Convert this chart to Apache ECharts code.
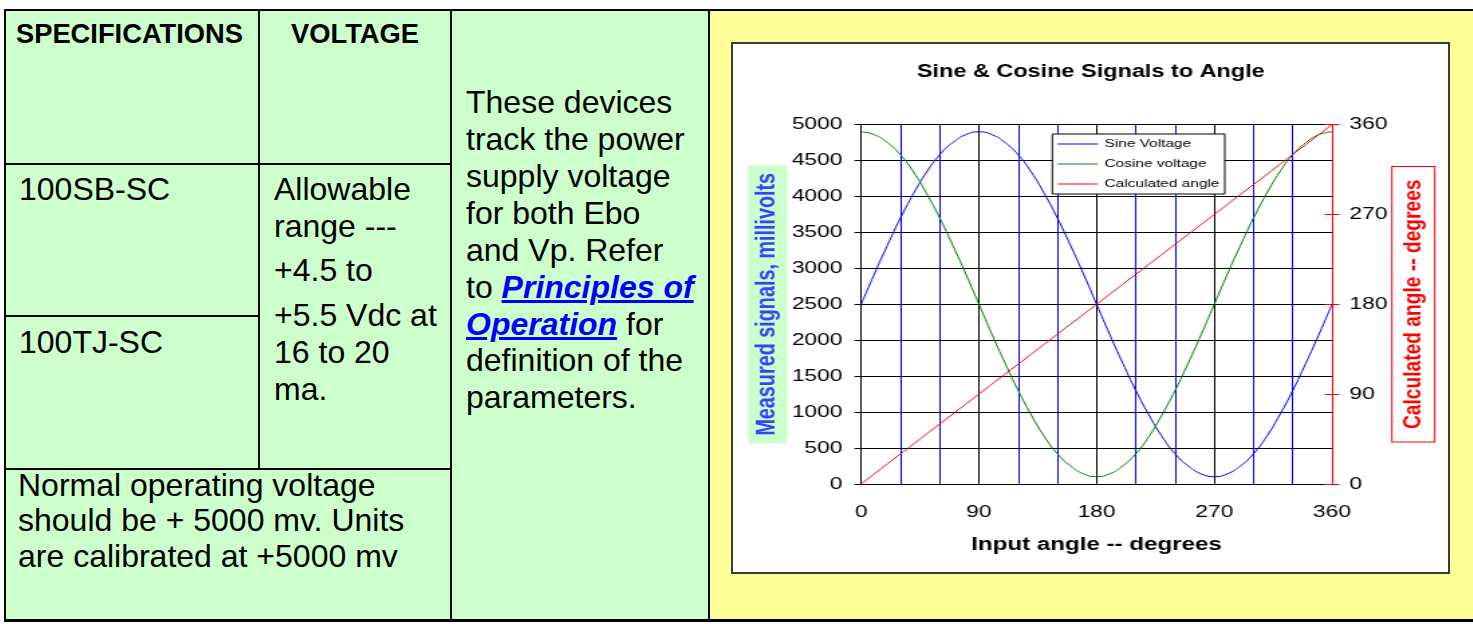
<!DOCTYPE html>
<html><head><meta charset="utf-8">
<script src="https://cdn.jsdelivr.net/npm/echarts@6/dist/echarts.min.js"></script>
<style>
html,body{margin:0;padding:0;width:1473px;height:624px;overflow:hidden;background:#fff;font-family:"Liberation Sans",Arial,sans-serif;}
.abs{position:absolute;}
.ln{position:absolute;background:#000;}
.t{position:absolute;white-space:nowrap;font-size:32px;color:#000;}
.h{position:absolute;white-space:nowrap;font-size:27.3px;font-weight:bold;line-height:30px;color:#000;}
.lk{color:#0000ff;font-weight:bold;font-style:italic;text-decoration:underline;}
#box{position:absolute;left:731px;top:42px;width:719px;height:532px;box-sizing:border-box;border:2px solid #3c3c3c;background:#fff;overflow:hidden;}
#chart{position:absolute;left:0;top:0;width:533.6px;height:528px;transform:scaleX(1.34);transform-origin:0 0;}
</style></head><body>
<div class="abs" style="left:5px;top:10px;width:704px;height:610px;background:#ccffcc"></div>
<div class="abs" style="left:709px;top:10px;width:764px;height:610px;background:#ffff99"></div>
<!-- table borders -->
<div class="ln" style="left:4px;top:9px;width:1469px;height:2px"></div>
<div class="ln" style="left:4px;top:9px;width:2px;height:613px"></div>
<div class="ln" style="left:4px;top:619px;width:1469px;height:3px"></div>
<div class="ln" style="left:258px;top:9px;width:2px;height:460px"></div>
<div class="ln" style="left:450px;top:9px;width:2px;height:612px"></div>
<div class="ln" style="left:708px;top:9px;width:2px;height:612px"></div>
<div class="ln" style="left:4px;top:162.5px;width:448px;height:2px"></div>
<div class="ln" style="left:4px;top:315px;width:255px;height:2px"></div>
<div class="ln" style="left:4px;top:467.5px;width:448px;height:2px"></div>
<!-- table text -->
<div class="h" style="left:16px;top:18.9px">SPECIFICATIONS</div>
<div class="h" style="left:259px;width:192px;text-align:center;top:18.9px">VOLTAGE</div>
<div class="t" style="left:19px;top:171.3px;line-height:36.7px">100SB-SC</div>
<div class="t" style="left:19px;top:323.9px;line-height:36.7px">100TJ-SC</div>
<div class="t" style="left:274px;top:171.3px;line-height:36.6px">Allowable<br>range ---</div>
<div class="t" style="left:274px;top:252.3px;line-height:36.7px">+4.5 to</div>
<div class="t" style="left:274px;top:297.3px;line-height:36.65px">+5.5 Vdc at<br>16 to 20<br>ma.</div>
<div class="t" style="left:18px;top:467.7px;line-height:35.8px">Normal operating voltage<br>should be + 5000 mv. Units<br>are calibrated at +5000 mv</div>
<div class="t" style="left:466px;top:84.1px;line-height:36.9px">These devices<br>track the power<br>supply voltage<br>for both Ebo<br>and Vp. Refer<br>to <span class="lk">Principles of</span><br><span class="lk">Operation</span> for<br>definition of the<br>parameters.</div>
<div id="box"><div id="chart"></div></div>
<script>
var angles = [0,10,20,30,40,50,60,70,80,90,100,110,120,130,140,150,160,170,180,190,200,210,220,230,240,250,260,270,280,290,300,310,320,330,340,350,360];
var sineVoltage = [2500,2920,3320,3700,4040,4340,4580,4750,4860,4900,4860,4750,4580,4340,4040,3700,3320,2920,2500,2080,1680,1300,960,660,420,250,140,100,140,250,420,660,960,1300,1680,2080,2500];
var cosineVoltage = [4900,4860,4750,4580,4340,4040,3700,3320,2920,2500,2080,1680,1300,960,660,420,250,140,100,140,250,420,660,960,1300,1680,2080,2500,2920,3320,3700,4040,4340,4580,4750,4860,4900];
var calculatedAngle = [0,10,20,30,40,50,60,70,80,90,100,110,120,130,140,150,160,170,180,190,200,210,220,230,240,250,260,270,280,290,300,310,320,330,340,350,360];
var seriesNames = ['Sine Voltage','Cosine voltage','Calculated angle'];
var chartTitle = 'Sine & Cosine Signals to Angle';
var xTitle = 'Input angle -- degrees';
var yLeftTitle = 'Measured signals, millivolts';
var yRightTitle = 'Calculated angle -- degrees';

function pairs(ys){ return angles.map(function(a,i){ return [a, ys[i]]; }); }
function plain(v){ return String(v); }
var FF = '"Liberation Sans", Arial, sans-serif';
var lineIcon = 'path://M0,0H30V1H0Z';
var chart = echarts.init(document.getElementById('chart'), null, {renderer:'canvas'});
chart.setOption({
  backgroundColor:'#ffffff',
  animation:false,
  textStyle:{fontFamily:FF},
  title:{text:chartTitle, left:'center', top:19, padding:0,
    textStyle:{fontFamily:FF, fontSize:17.5, fontWeight:'bold', color:'#000'}},
  legend:{orient:'vertical', left:238.3, top:90, padding:[4,4,4,4], itemGap:8,
    itemWidth:30, itemHeight:14, icon:lineIcon, backgroundColor:'#fff', borderColor:'#000', borderWidth:1, borderRadius:0,
    textStyle:{fontFamily:FF, fontSize:11.5, color:'#000'}, data:seriesNames},
  grid:{left:95.7, right:87, top:80.6, bottom:88.1, containLabel:false},
  xAxis:{type:'value', min:0, max:360, interval:90,
    name:xTitle, nameLocation:'middle', nameGap:52.6,
    nameTextStyle:{fontFamily:FF, fontSize:18, fontWeight:'bold', color:'#000'},
    axisLine:{show:true, onZero:false, lineStyle:{color:'#000', width:1}},
    axisTick:{show:false},
    axisLabel:{fontFamily:FF, fontSize:17, color:'#000', margin:20, formatter:plain},
    splitLine:{show:true, lineStyle:{color:'#000', width:1}},
    minorTick:{show:false, splitNumber:3},
    minorSplitLine:{show:true, lineStyle:{color:'#0000ff', width:1}}},
  yAxis:[
    {type:'value', position:'left', min:0, max:5000, interval:500,
      name:yLeftTitle, nameLocation:'middle', nameRotate:90, nameGap:55.4, nameMoveOverlap:false,
      nameTextStyle:{fontFamily:FF, fontSize:19.8, fontWeight:'bold', color:'#3344ff', backgroundColor:'#ccffcc', padding:[4.5,8,4.5,8]},
      axisLine:{show:true, lineStyle:{color:'#000', width:1}},
      axisTick:{show:true, inside:false, length:5, lineStyle:{color:'#000'}},
      axisLabel:{fontFamily:FF, fontSize:17, color:'#000', margin:14, formatter:plain},
      splitLine:{show:true, lineStyle:{color:'#000', width:1}}},
    {type:'value', position:'right', min:0, max:360, interval:90,
      name:yRightTitle, nameLocation:'middle', nameRotate:90, nameGap:45.2, nameMoveOverlap:false,
      nameTextStyle:{fontFamily:FF, fontSize:19.2, fontWeight:'bold', color:'#ff0000', backgroundColor:'#fff', borderColor:'#ff0000', borderWidth:1, padding:[6,12.5,6,12.5]},
      axisLine:{show:true, lineStyle:{color:'#ff0000', width:1}},
      axisTick:{show:true, inside:false, length:5.5, lineStyle:{color:'#ff0000'}},
      axisLabel:{fontFamily:FF, fontSize:17, color:'#000', margin:13, formatter:plain},
      splitLine:{show:false}},
    {type:'value', position:'right', min:0, max:360, interval:90,
      axisLine:{show:false},
      axisTick:{show:true, inside:true, length:5.5, lineStyle:{color:'#ff0000'}},
      axisLabel:{show:false}, splitLine:{show:false}}
  ],
  series:[
    {name:seriesNames[0], type:'line', yAxisIndex:0, data:pairs(sineVoltage), smooth:true, symbol:'none',
      lineStyle:{color:'#0000ff', width:1}, itemStyle:{color:'#0000ff'}},
    {name:seriesNames[1], type:'line', yAxisIndex:0, data:pairs(cosineVoltage), smooth:true, symbol:'none',
      lineStyle:{color:'#008000', width:1}, itemStyle:{color:'#008000'}},
    {name:seriesNames[2], type:'line', yAxisIndex:1, data:pairs(calculatedAngle), symbol:'none',
      lineStyle:{color:'#ff0000', width:1}, itemStyle:{color:'#ff0000'}}
  ]
});
</script>
</body></html>
